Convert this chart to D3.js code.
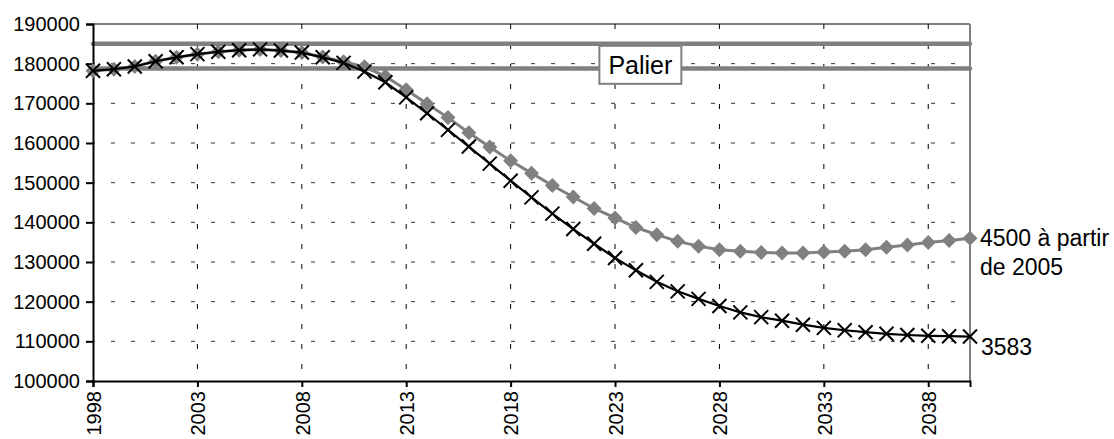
<!DOCTYPE html>
<html>
<head>
<meta charset="utf-8">
<script src="https://cdn.jsdelivr.net/npm/d3@7"></script>
<style>
  body { margin: 0; background: #fff; }
  text { font-family: "Liberation Sans", Arial, sans-serif; }
</style>
</head>
<body>
<div id="chart"></div>
<script>
// 1: DATA
const years = d3.range(1998, 2041);
const tickYears = [1998, 2003, 2008, 2013, 2018, 2023, 2028, 2033, 2038];
const yTicks = [100000, 110000, 120000, 130000, 140000, 150000, 160000, 170000, 180000, 190000];

// "3583" (black, crosses)
const serie3583 = [
    178200, 178600, 179300, 180600, 181600, 182400, 183000, 183400, 183600, 183300,
    182800, 181600, 180200, 178000, 175300, 171500, 167500, 163300, 159100, 154800,
    150500, 146300, 142200, 138300, 134600, 131000, 127900, 125000, 122600, 120700,
    118900, 117300, 116100, 115200, 114200, 113400, 112800, 112300, 111900, 111600,
    111400, 111300, 111200
];

// "4500 à partir de 2005" (grey, diamonds)
const serie4500 = [
    178200, 178600, 179300, 180600, 181600, 182400, 183000, 183400, 183600, 183300,
    182800, 181700, 180500, 179200, 176800, 173400, 169900, 166400, 162600, 159000,
    155500, 152400, 149300, 146400, 143500, 141100, 138700, 136900, 135200, 134000,
    133100, 132700, 132400, 132300, 132300, 132500, 132700, 133100, 133700, 134300,
    134900, 135400, 136000
];

// "Palier" band
const palier = [185000, 178800];

// 2: SVG + SCALES
const W = 1114, H = 439;
const margin = { top: 24, right: 144, bottom: 58, left: 93 };
const width = W - margin.left - margin.right;
const height = H - margin.top - margin.bottom;

const svg = d3.select("#chart").append("svg")
    .attr("width", W)
    .attr("height", H);

const g = svg.append("g")
    .attr("transform", `translate(${margin.left},${margin.top})`);

const x = d3.scaleLinear().domain([1998, 2040]).range([0, width]);
const y = d3.scaleLinear().domain([100000, 190000]).range([height, 0]);

// 3: GRIDLINES (dashed)
g.append("g")
    .selectAll("line")
    .data(yTicks.slice(1, -1))
    .join("line")
    .attr("x1", 0).attr("x2", width)
    .attr("y1", d => y(d)).attr("y2", d => y(d))
    .attr("stroke", "#333")
    .attr("stroke-width", 1)
    .attr("stroke-dasharray", "4,16")
    .attr("stroke-dashoffset", -18);

g.append("g")
    .selectAll("line")
    .data(tickYears.slice(1))
    .join("line")
    .attr("x1", d => x(d)).attr("x2", d => x(d))
    .attr("y1", 0).attr("y2", height)
    .attr("stroke", "#000")
    .attr("stroke-width", 1)
    .attr("stroke-dasharray", "5,15");

// top border (solid) and right border (grey)
g.append("line")
    .attr("x1", 0).attr("x2", width)
    .attr("y1", 0).attr("y2", 0)
    .attr("stroke", "#000").attr("stroke-width", 1);

g.append("line")
    .attr("x1", width).attr("x2", width)
    .attr("y1", 0).attr("y2", height)
    .attr("stroke", "#808080").attr("stroke-width", 2);

// 4: PALIER LINES
g.append("g")
    .selectAll("line")
    .data(palier)
    .join("line")
    .attr("x1", 0).attr("x2", width)
    .attr("y1", d => y(d)).attr("y2", d => y(d))
    .attr("stroke", "#808080")
    .attr("stroke-width", 4.5)
    .attr("stroke-linecap", "round");

// 5: AXES
const yAxis = g.append("g")
    .call(d3.axisLeft(y).tickValues(yTicks).tickSize(7).tickPadding(6).tickFormat(d3.format("d")));
yAxis.select(".domain").attr("stroke", "#000").attr("stroke-width", 2);
yAxis.selectAll(".tick line").attr("stroke", "#000").attr("stroke-width", 2);
yAxis.selectAll("text").attr("font-size", 20).attr("fill", "#000")
    .style("font-family", "'Liberation Sans', Arial, sans-serif");

const xAxis = g.append("g")
    .attr("transform", `translate(0,${height})`)
    .call(d3.axisBottom(x).tickValues(tickYears).tickSize(6).tickFormat(d3.format("d")));
xAxis.select(".domain").attr("stroke", "#000").attr("stroke-width", 2);
xAxis.selectAll(".tick line").attr("stroke", "#000").attr("stroke-width", 2);
xAxis.selectAll("text")
    .attr("font-size", 20).attr("fill", "#000")
    .style("font-family", "'Liberation Sans', Arial, sans-serif")
    .attr("text-anchor", "end")
    .attr("transform", "translate(0,10) rotate(-90)")
    .attr("x", 0).attr("y", 0).attr("dy", "0.36em");

// 6: SERIES
const line = d3.line()
    .x((d, i) => x(years[i]))
    .y(d => y(d));

// grey series
g.append("path")
    .datum(serie4500)
    .attr("fill", "none")
    .attr("stroke", "#808080")
    .attr("stroke-width", 3)
    .attr("d", line);

g.append("g")
    .selectAll("path")
    .data(serie4500)
    .join("path")
    .attr("transform", (d, i) => `translate(${x(years[i])},${y(d)})`)
    .attr("d", "M0,-7.5L7.5,0L0,7.5L-7.5,0Z")
    .attr("fill", "#808080");

// black series
g.append("path")
    .datum(serie3583)
    .attr("fill", "none")
    .attr("stroke", "#000")
    .attr("stroke-width", 2.2)
    .attr("d", line);

g.append("g")
    .selectAll("path")
    .data(serie3583)
    .join("path")
    .attr("transform", (d, i) => `translate(${x(years[i])},${y(d)})`)
    .attr("d", "M-7,-7L7,7M-7,7L7,-7")
    .attr("stroke", "#000")
    .attr("stroke-width", 2)
    .attr("fill", "none");

// 7: PALIER LABEL
const box = g.append("g")
    .attr("transform", `translate(${x(2022.25)},${y(palier[0]) + 2})`);
box.append("rect")
    .attr("x", 0).attr("y", 0)
    .attr("width", 82).attr("height", 38)
    .attr("fill", "#fff")
    .attr("stroke", "#808080")
    .attr("stroke-width", 2);
box.append("text")
    .attr("x", 41).attr("y", 28)
    .attr("text-anchor", "middle")
    .attr("font-size", 25)
    .text("Palier");

// 8: SERIES LABELS
const last = years.length - 1;
const lbl = g.append("text")
    .attr("x", width + 10)
    .attr("y", y(serie4500[last]) + 8)
    .attr("font-size", 23);
lbl.append("tspan").attr("x", width + 10).text("4500 à partir");
lbl.append("tspan").attr("x", width + 10).attr("dy", 28.5).text("de 2005");

g.append("text")
    .attr("x", width + 11)
    .attr("y", y(serie3583[last]) + 18)
    .attr("font-size", 23)
    .text("3583");
</script>
</body>
</html>
